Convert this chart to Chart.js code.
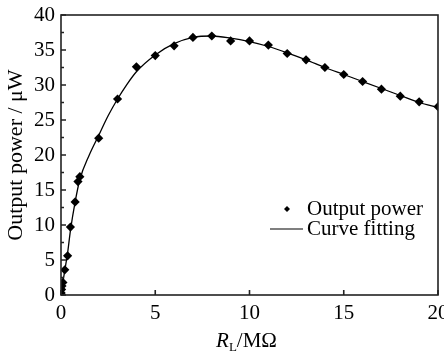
<!DOCTYPE html>
<html>
<head>
<meta charset="utf-8">
<script src="https://cdn.jsdelivr.net/npm/chart.js@4.4.1/dist/chart.umd.min.js"></script>
<style>
html, body { margin: 0; padding: 0; background: #fff; }
</style>
</head>
<body>
<canvas id="powerChart" width="444" height="353"></canvas>
<script>
// measured points (R_L in MOhm, power in uW)
var resistance = [0.01, 0.03, 0.05, 0.1, 0.2, 0.35, 0.5, 0.75, 0.9, 1, 2, 3, 4, 5, 6, 7, 8, 9, 10, 11, 12, 13, 14, 15, 16, 17, 18, 19, 20];
var power = [0.3, 0.8, 1.3, 1.8, 3.6, 5.6, 9.7, 13.3, 16.2, 16.9, 22.4, 28.0, 32.6, 34.2, 35.6, 36.8, 37.0, 36.3, 36.3, 35.7, 34.5, 33.6, 32.5, 31.5, 30.5, 29.4, 28.4, 27.6, 26.9];

// fitted curve
var fitX = [0, 0.1, 0.2, 0.35, 0.5, 0.75, 1, 1.5, 2, 2.5, 3, 3.5, 4, 5, 6, 7, 8, 9, 10, 11, 12, 13, 14, 15, 16, 17, 18, 19, 20];
var fitY = [0, 1.8, 3.5, 6.0, 9.2, 13.3, 16.5, 20.0, 22.8, 25.6, 28.0, 30.1, 31.9, 34.3, 35.9, 36.8, 37.0, 36.7, 36.2, 35.5, 34.6, 33.6, 32.5, 31.5, 30.5, 29.5, 28.5, 27.5, 26.8];

var xTicks = [0, 5, 10, 15, 20];
var yTicks = [0, 5, 10, 15, 20, 25, 30, 35, 40];
var legendNames = ["Output power", "Curve fitting"];

var serif = "'Liberation Serif', 'Times New Roman', serif";

function toPoints(xs, ys) {
  return xs.map(function (x, i) { return { x: x, y: ys[i] }; });
}

// box round the plot, inward ticks, legend and x title
var framePlugin = {
  id: 'frame',
  afterDraw: function (chart) {
    var ctx = chart.ctx;
    var a = chart.chartArea;
    var xs = chart.scales.x, ys = chart.scales.y;
    ctx.save();
    ctx.strokeStyle = '#222';
    ctx.lineWidth = 1.6;
    ctx.strokeRect(a.left, a.top, a.right - a.left, a.bottom - a.top);

    ctx.beginPath();
    xTicks.forEach(function (v) {
      var px = xs.getPixelForValue(v);
      ctx.moveTo(px, a.bottom);
      ctx.lineTo(px, a.bottom - 5);
    });
    for (var v = 0; v <= 40; v += 2.5) {
      var py = ys.getPixelForValue(v);
      var len = (v % 5 === 0) ? 5 : 3;
      ctx.moveTo(a.left, py);
      ctx.lineTo(a.left + len, py);
    }
    ctx.stroke();

    // legend
    ctx.fillStyle = '#000';
    ctx.strokeStyle = '#000';
    var lx = 287, ly1 = 209, ly2 = 229;
    ctx.beginPath();
    ctx.moveTo(lx - 3, ly1);
    ctx.lineTo(lx, ly1 - 3);
    ctx.lineTo(lx + 3, ly1);
    ctx.lineTo(lx, ly1 + 3);
    ctx.closePath();
    ctx.fill();
    ctx.lineWidth = 1.2;
    ctx.beginPath();
    ctx.moveTo(270, ly2);
    ctx.lineTo(303, ly2);
    ctx.stroke();
    ctx.font = "21px " + serif;
    ctx.textBaseline = 'middle';
    ctx.textAlign = 'left';
    ctx.fillText(legendNames[0], 307, ly1);
    ctx.fillText(legendNames[1], 307, ly2);

    // x axis title R_L/MΩ
    ctx.textBaseline = 'alphabetic';
    var fR = "italic 21px " + serif, fL = "13px " + serif, fM = "21px " + serif;
    ctx.font = fR; var wR = ctx.measureText('R').width;
    ctx.font = fL; var wL = ctx.measureText('L').width;
    ctx.font = fM; var wM = ctx.measureText('/M\u03A9').width;
    var cx = (a.left + a.right) / 2 - 3;
    var x0 = cx - (wR + wL + wM) / 2, base = 347;
    ctx.font = fR; ctx.fillText('R', x0, base);
    ctx.font = fL; ctx.fillText('L', x0 + wR, base + 4);
    ctx.font = fM; ctx.fillText('/M\u03A9', x0 + wR + wL, base);
    ctx.restore();
  }
};

var ctx = document.getElementById('powerChart').getContext('2d');
var chart = new Chart(ctx, {
  type: 'scatter',
  data: {
    datasets: [{
      label: legendNames[0],
      data: toPoints(resistance, power),
      pointStyle: 'rectRot',
      pointRadius: 4.6,
      pointBackgroundColor: '#000',
      pointBorderWidth: 0,
      showLine: false,
      order: 1
    }, {
      label: legendNames[1],
      data: toPoints(fitX, fitY),
      showLine: true,
      borderColor: '#000',
      borderWidth: 1.3,
      pointRadius: 0,
      tension: 0.4,
      cubicInterpolationMode: 'monotone',
      order: 2
    }]
  },
  options: {
    responsive: false,
    animation: false,
    layout: { padding: { left: 0, top: 15, right: 6, bottom: 0 } },
    plugins: { legend: { display: false }, tooltip: { enabled: false } },
    scales: {
      x: {
        type: 'linear',
        min: 0, max: 20,
        afterBuildTicks: function (s) { s.ticks = xTicks.map(function (v) { return { value: v }; }); },
        afterFit: function (s) { s.height = 58; s.paddingLeft = 0; s.paddingRight = 0; },
        grid: { display: false, drawTicks: false },
        border: { display: false },
        ticks: { color: '#000', font: { family: serif, size: 21 }, padding: 6, maxRotation: 0 }
      },
      y: {
        min: 0, max: 40,
        afterBuildTicks: function (s) { s.ticks = yTicks.map(function (v) { return { value: v }; }); },
        afterFit: function (s) { s.width = 61; s.paddingTop = 0; s.paddingBottom = 0; },
        grid: { display: false, drawTicks: false },
        border: { display: false },
        ticks: { color: '#000', font: { family: serif, size: 21 }, padding: 6 },
        title: {
          display: true,
          text: 'Output power / \u03BCW',
          color: '#000',
          font: { family: serif, size: 22 },
          padding: { top: 3, bottom: 0 }
        }
      }
    }
  },
  plugins: [framePlugin]
});
</script>
</body>
</html>
